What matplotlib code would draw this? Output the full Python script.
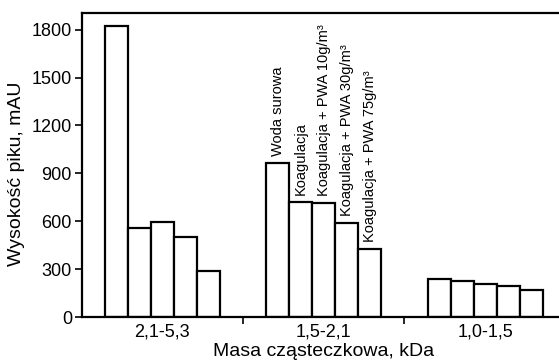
import matplotlib
matplotlib.use("Agg")
from matplotlib import pyplot as plt
import numpy as np

# mass fractions (kDa) and the five treatment variants
groups = ["2,1-5,3", "1,5-2,1", "1,0-1,5"]
variants = ["Woda surowa", "Koagulacja", "Koagulacja + PWA 10g/m³",
            "Koagulacja + PWA 30g/m³", "Koagulacja + PWA 75g/m³"]

# peak heights, mAU (rows: groups, columns: variants)
frac_2153 = [1820, 560, 595, 500, 290]
frac_1521 = [965, 720, 715, 590, 425]
frac_1015 = [238, 225, 205, 196, 170]

font = {'family': 'Liberation Sans', 'size': 13}
matplotlib.rc('font', **font)

fig = plt.figure(figsize=(5.59, 3.62), dpi=100)
ax = fig.add_axes([81.7/559, 45/362, 484/559, 304/362])

bar_w = 0.1426
offsets = (np.arange(len(variants)) - 2) * bar_w
data = [frac_2153, frac_1521, frac_1015]

for gi, vals in enumerate(data):
    x = gi + 0.5 + offsets
    ax.bar(x, vals, width=bar_w, color="white", edgecolor="black", linewidth=1.6)
    if gi == 1:
        for xi, v, name in zip(x, vals, variants):
            ax.text(xi, v + 45, name, rotation=90, ha="center", va="bottom", fontsize=10.5)

ax.set_xlim(0, 3)
ax.set_ylim(0, 1904)
ax.set_yticks([0, 300, 600, 900, 1200, 1500, 1800])

ax.set_xticks([1, 2])
ax.set_xticklabels([])
ax.set_xticks([0.5, 1.5, 2.5], minor=True)
ax.set_xticklabels(groups, minor=True)
ax.tick_params(axis="x", which="minor", length=0, pad=5)
ax.tick_params(axis="x", which="major", length=5, width=1.2, direction="out")
ax.tick_params(axis="y", length=5, width=1.2, direction="out", pad=2)

for s in ax.spines.values():
    s.set_linewidth(1.6)

ax.set_ylabel("Wysokość piku, mAU", fontsize=14)
ax.yaxis.set_label_coords(-0.118, 0.47)
ax.set_xlabel("Masa cząsteczkowa, kDa", fontsize=14)
ax.xaxis.set_label_coords(0.5, -0.112)
ax.xaxis.label.set_va("center")

plt.savefig("out.png", dpi=100)
